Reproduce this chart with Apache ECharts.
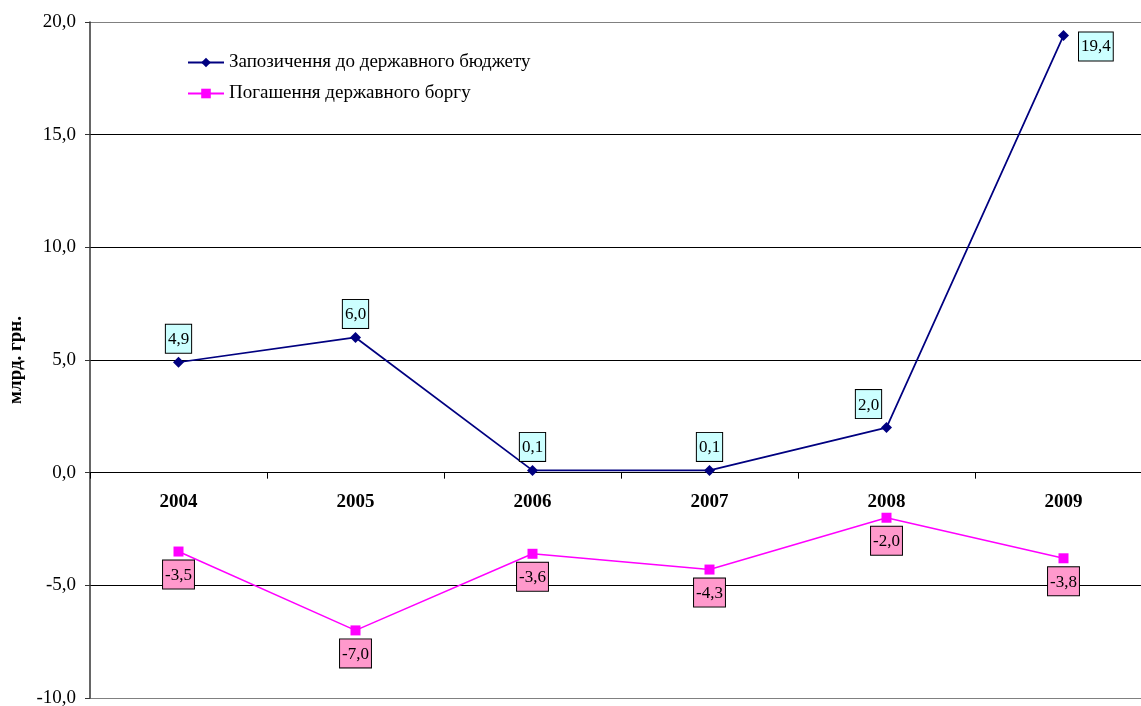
<!DOCTYPE html>
<html><head><meta charset="utf-8">
<script src="https://cdn.jsdelivr.net/npm/echarts@6/dist/echarts.min.js"></script>
<style>html,body{margin:0;padding:0;background:#fff}#c{width:1141px;height:706px}</style>
</head><body><div id="c"></div>
<script>
const years = ['2004','2005','2006','2007','2008','2009'];
const borrowing = [4.9, 6.0, 0.1, 0.1, 2.0, 19.4];
const repayment = [-3.5, -7.0, -3.6, -4.3, -2.0, -3.8];
const seriesNames = ['Запозичення до державного бюджету', 'Погашення державного боргу'];
const yMin = -10, yMax = 20, yStep = 5;

const FONT = '"Liberation Serif", "Times New Roman", serif';
const fmt = v => v.toFixed(1).replace('.', ',');

const GRID_TOP = 22, GRID_BOTTOM_Y = 698, H = 706;
const gridH = GRID_BOTTOM_Y - GRID_TOP;
const zeroOffset = -(gridH * (0 - yMin) / (yMax - yMin));

function labelBase(bg, pos) {
  return {
    show: true, position: pos, distance: 4,
    formatter: p => fmt(p.value),
    backgroundColor: bg, borderColor: '#000', borderWidth: 1,
    padding: [6, 2, 4, 2], color: '#000', fontFamily: FONT, fontSize: 17, lineHeight: 18
  };
}
const blueData = borrowing.map((v, i) => {
  const d = { value: v };
  if (i === 4) d.label = { position: 'top', offset: [-18, 0] };
  if (i === 5) d.label = { position: 'right', offset: [6, 11] };
  return d;
});
const pinkData = repayment.map(v => ({ value: v }));

const chart = echarts.init(document.getElementById('c'));
chart.setOption({
  animation: false,
  backgroundColor: '#fff',
  grid: { left: 90, right: -11, top: GRID_TOP, bottom: H - GRID_BOTTOM_Y, containLabel: false, outerBoundsMode: 'none' },
  legend: {
    orient: 'vertical', left: 182, top: 48, itemGap: 12,
    itemWidth: 36, itemHeight: 12,
    textStyle: { fontFamily: FONT, fontSize: 19, color: '#000' },
    data: seriesNames
  },
  xAxis: {
    type: 'category', data: years, boundaryGap: true, position: 'bottom', offset: zeroOffset,
    axisLine: { onZero: false, lineStyle: { color: '#000', width: 1 } },
    axisTick: { show: true, interval: 0, length: 6, lineStyle: { color: '#000' } },
    axisLabel: { margin: 20, fontFamily: FONT, fontSize: 19, fontWeight: 'bold', color: '#000', interval: 0 },
    splitLine: { show: false }
  },
  yAxis: {
    type: 'value', min: yMin, max: yMax, interval: yStep,
    name: 'млрд. грн.', nameLocation: 'middle', nameGap: 64, nameRotate: 90,
    nameTextStyle: { fontFamily: FONT, fontSize: 19, fontWeight: 'bold', color: '#000' },
    axisLine: { show: true, lineStyle: { color: '#333', width: 1.5 } },
    axisTick: { show: true, length: 5, lineStyle: { color: '#333' } },
    axisLabel: { formatter: v => fmt(v), fontFamily: FONT, fontSize: 19, color: '#000', margin: 14 },
    splitLine: { show: true, lineStyle: { color: ['#808080', '#000', '#000', '#000', '#000', '#000', '#808080'], width: 1 } }
  },
  series: [
    {
      name: seriesNames[0], type: 'line', data: blueData,
      symbol: 'diamond', symbolSize: 11,
      itemStyle: { color: '#000080' }, lineStyle: { color: '#000080', width: 1.75 },
      label: labelBase('#CCFFFF', 'top'), z: 3
    },
    {
      name: seriesNames[1], type: 'line', data: pinkData,
      symbol: 'rect', symbolSize: 10,
      itemStyle: { color: '#FF00FF' }, lineStyle: { color: '#FF00FF', width: 1.5 },
      label: labelBase('#FF99CC', 'bottom'), z: 3
    }
  ]
});
</script></body></html>
